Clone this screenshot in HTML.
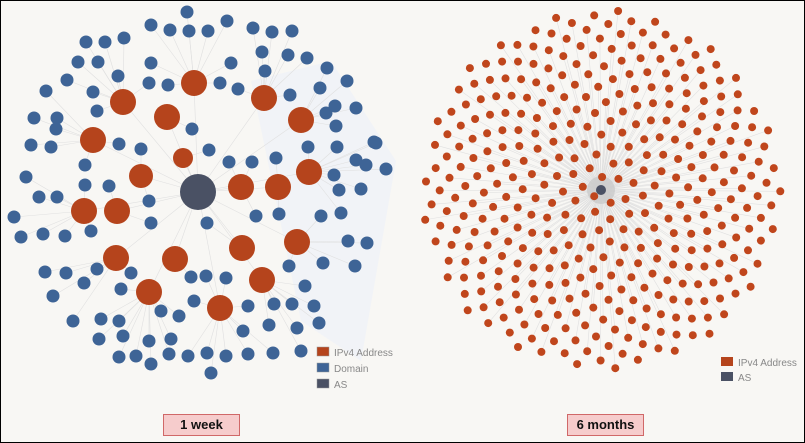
<!DOCTYPE html>
<html><head><meta charset="utf-8"><style>
body{margin:0;background:#fff}
#wrap{position:relative;width:803px;height:441px;border:1px solid #000;background:#f8f7f4;overflow:hidden;font-family:"Liberation Sans",sans-serif}
.lbl{position:absolute;top:413px;height:20px;line-height:20px;background:#f6cccc;border:1px solid #d06868;font-weight:bold;font-size:13px;text-align:center;color:#111}
</style></head><body>
<div id="wrap">
<svg id="svg" width="803" height="441">
<polygon points="250,80 330,60 395,160 360,360 300,320" fill="#f1f3f7"/>
<g id="edges" stroke="#e0e0e0" stroke-width="0.6"></g>
<g id="nodes"></g>
<g font-size="10" fill="#888">
<rect x="316" y="346" width="12" height="9" fill="#b5441c" stroke="#999" stroke-width="0.5"/><text x="333" y="355">IPv4 Address</text>
<rect x="316" y="362" width="12" height="9" fill="#3e6496" stroke="#999" stroke-width="0.5"/><text x="333" y="371">Domain</text>
<rect x="316" y="378" width="12" height="9" fill="#4a5164" stroke="#999" stroke-width="0.5"/><text x="333" y="387">AS</text>
</g>
<g font-size="10" fill="#888">
<rect x="720" y="356" width="12" height="9" fill="#b5441c"/><text x="737" y="365">IPv4 Address</text>
<rect x="720" y="371" width="12" height="9" fill="#4a5164"/><text x="737" y="380">AS</text>
</g>
</svg>
<div class="lbl" style="left:162px;width:75px">1 week</div>
<div class="lbl" style="left:566px;width:75px">6 months</div>
</div>
<script>
const ipNodes=[[193,82,13],[122,101,13],[166,116,13],[263,97,13],[300,119,13],[92,139,13],[140,175,12],[182,157,10],[240,186,13],[277,186,13],[308,171,13],[83,210,13],[116,210,13],[115,257,13],[174,258,13],[241,247,13],[296,241,13],[148,291,13],[261,279,13],[219,307,13]];
const domainNodes=[[186,11],[150,24],[169,29],[188,30],[207,30],[226,20],[252,27],[271,31],[291,30],[85,41],[104,41],[123,37],[77,61],[97,61],[117,75],[150,62],[66,79],[45,90],[92,91],[148,82],[167,84],[230,62],[261,51],[287,54],[306,57],[264,70],[326,67],[346,80],[219,82],[237,88],[289,94],[319,87],[56,117],[96,110],[33,117],[55,128],[334,105],[355,107],[335,125],[30,144],[50,146],[118,143],[140,148],[191,128],[208,149],[307,146],[336,146],[355,159],[373,141],[228,161],[251,161],[275,157],[84,164],[25,176],[38,196],[56,196],[84,184],[108,185],[148,200],[365,164],[333,174],[385,168],[338,189],[360,188],[13,216],[20,236],[42,233],[64,235],[90,230],[150,222],[206,222],[255,215],[278,213],[320,215],[340,212],[347,240],[366,242],[322,262],[354,265],[44,271],[65,272],[96,268],[83,282],[130,272],[120,288],[190,276],[225,277],[205,275],[288,265],[304,285],[291,303],[52,295],[72,320],[100,318],[118,320],[160,310],[178,315],[193,300],[247,305],[273,303],[313,305],[318,322],[296,327],[122,335],[148,340],[170,338],[242,330],[268,324],[135,355],[118,356],[187,355],[206,352],[225,355],[247,353],[272,352],[300,350],[210,372],[150,363],[168,353],[98,338],[325,112],[375,142]];
const asNode=[197,191];
const sixMonthCount=380;
const sixCenter=[600,189];
const NS="http://www.w3.org/2000/svg";
const E=document.getElementById('edges'),N=document.getElementById('nodes');
function line(a,b){const l=document.createElementNS(NS,'line');


l.setAttribute('x1',a[0]);l.setAttribute('y1',a[1]);l.setAttribute('x2',b[0]);l.setAttribute('y2',b[1]);E.appendChild(l);}
function dot(x,y,r,c,name){const d=document.createElementNS(NS,'circle');


d.setAttribute('cx',x);d.setAttribute('cy',y);d.setAttribute('r',r);d.setAttribute('fill',c);N.appendChild(d);}
ipNodes.forEach(p=>line(asNode,p));
domainNodes.forEach(p=>{let best=ipNodes[0],bd=1e9;ipNodes.forEach(q=>{const d=(q[0]-p[0])**2+(q[1]-p[1])**2;if(d<bd){bd=d;best=q;}});line(p,best);});
dot(asNode[0],asNode[1],18,'#4a5164','as-node');
ipNodes.forEach(p=>dot(p[0],p[1],p[2],'#b5441c','ipv4-node'));
domainNodes.forEach(p=>dot(p[0],p[1],6.5,'#3e6496','domain-node'));
const ga=Math.PI*(3-Math.sqrt(5));const pts=[];
for(let i=1;i<=sixMonthCount;i++){const r=180*Math.sqrt(i/sixMonthCount);const t=i*ga;pts.push([sixCenter[0]+r*Math.cos(t),sixCenter[1]+r*Math.sin(t)]);}
pts.forEach((p,i)=>{if(i%2==0)line(sixCenter,p);});
const g=document.createElementNS(NS,'circle');


g.setAttribute('cx',sixCenter[0]);g.setAttribute('cy',sixCenter[1]);g.setAttribute('r',14);g.setAttribute('fill','#bbb');g.setAttribute('opacity','0.5');N.appendChild(g);
pts.forEach(p=>dot(p[0].toFixed(1),p[1].toFixed(1),4,'#c0461c','ipv4-node-6m'));
dot(sixCenter[0],sixCenter[1],5,'#4a5164','as-node-6m');
</script>
</body></html>
